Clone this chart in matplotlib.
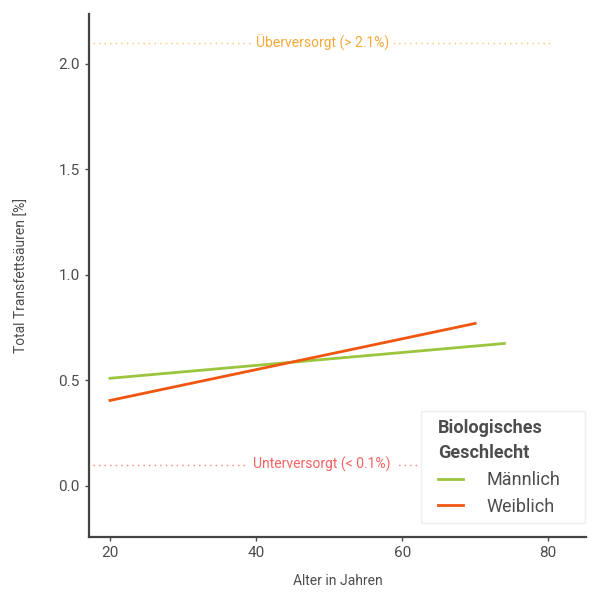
import matplotlib
matplotlib.use("Agg")
import matplotlib.pyplot as plt
from matplotlib.patches import Rectangle
import numpy as np

plt.rcParams["font.family"] = ["Roboto", "DejaVu Sans"]

# Fitted lines (age, total trans fatty acids %)
alter_m = [20, 74]
tfa_m = [0.51, 0.675]
alter_w = [20, 70]
tfa_w = [0.405, 0.77]

# Reference thresholds
ober = 2.1
unter = 0.1
ref_x = [17.7, 80.4]

x_ticks = [20, 40, 60, 80]
y_ticks = [0.0, 0.5, 1.0, 1.5, 2.0]

fig = plt.figure(figsize=(6, 6), dpi=100)
ax = fig.add_axes([0.148, 0.105, 0.829, 0.872])

grey = "#4d4d4d"

ax.plot(ref_x, [ober, ober], color="#FFC266", linestyle=(0, (1, 3)), linewidth=1)
ax.text(np.mean(ref_x), ober, "Überversorgt (> 2.1%)", color="#F5A93A", fontsize=10,
        ha="center", va="center", bbox=dict(facecolor="white", edgecolor="none", pad=3))
ax.plot(ref_x, [unter, unter], color="#FF8080", linestyle=(0, (1, 3)), linewidth=1)
ax.text(np.mean(ref_x), unter, "Unterversorgt (< 0.1%)", color="#F46262", fontsize=10,
        ha="center", va="center", bbox=dict(facecolor="white", edgecolor="none", pad=3))

ax.plot(alter_m, tfa_m, color="#9BC53D", linewidth=2, label="Männlich")
ax.plot(alter_w, tfa_w, color="#F0560F", linewidth=2, label="Weiblich")

ax.set_xlim(17.1, 85.2)
ax.set_ylim(-0.242, 2.237)
ax.set_xticks(x_ticks)
ax.set_yticks(y_ticks)
ax.set_yticklabels([f"{v:.1f}" for v in y_ticks])

for s in ["top", "right"]:
    ax.spines[s].set_visible(False)
for s in ["left", "bottom"]:
    ax.spines[s].set_color("#444444")
    ax.spines[s].set_linewidth(1.6)
ax.tick_params(colors=grey, labelsize=11, length=3, width=1)

ax.set_xlabel("Alter in Jahren", color=grey, fontsize=10, labelpad=10)
ax.set_ylabel("Total Transfettsäuren [%]", color=grey, fontsize=10, labelpad=21)

leg = ax.legend(title="Biologisches\nGeschlecht", loc="lower right", bbox_to_anchor=(0.948, 0.041),
                borderaxespad=0, fontsize=13, title_fontsize=13, frameon=False,
                handlelength=1.4, handletextpad=1.3, borderpad=0, labelspacing=0.45)
leg._legend_box.align = "left"
leg._legend_box.sep = 7
leg.get_title().set_fontweight("bold")
leg.get_title().set_color(grey)
leg.get_title().set_linespacing(1.45)
for t in leg.get_texts():
    t.set_color(grey)

# legend box with uneven padding, like the ggplot original
fig.canvas.draw()
bb = leg.get_window_extent(fig.canvas.get_renderer())
inv = ax.transAxes.inverted()
(x0, y0) = inv.transform((bb.x0 - 17, bb.y0 - 7))
(x1, y1) = inv.transform((bb.x1 + 25, bb.y1 + 8))
ax.add_patch(Rectangle((x0, y0), x1 - x0, y1 - y0, transform=ax.transAxes,
                       facecolor="white", edgecolor="#eeeeee", linewidth=1,
                       zorder=4.5, clip_on=False))

fig.savefig("out.png", dpi=100)
